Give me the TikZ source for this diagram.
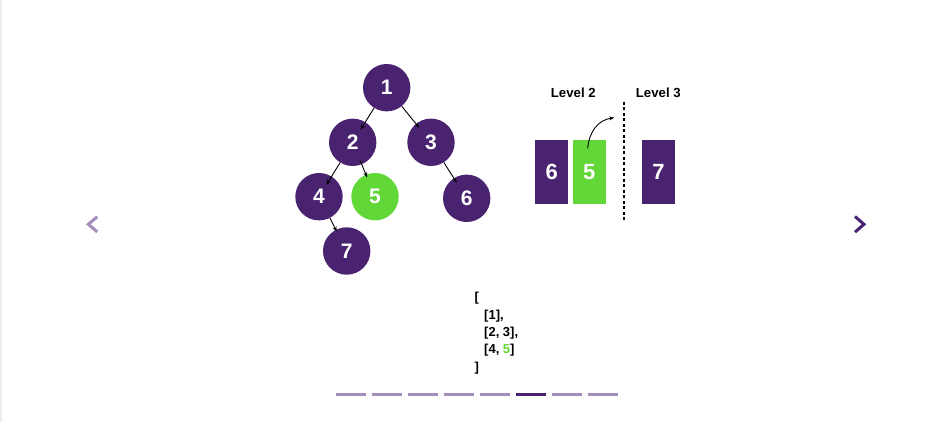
\documentclass[tikz,border=0pt]{standalone}
\usepackage{fontspec}
\setmainfont{Liberation Sans}
\usetikzlibrary{arrows.meta}
\definecolor{pur}{HTML}{4A2370}
\definecolor{grn}{HTML}{62D838}
\definecolor{lpur}{HTML}{A58DB9}
\definecolor{edge}{HTML}{EEEEEE}
\begin{document}
\begin{tikzpicture}[x=1pt,y=-1pt,
  tnode/.style={circle,fill=pur,minimum size=47.4pt,inner sep=0pt,text=white,font=\fontsize{21}{22}\selectfont\bfseries},
  hl/.style={fill=grn},
  bnode/.style={rectangle,fill=pur,minimum width=33pt,minimum height=64pt,inner sep=0pt,text=white,font=\fontsize{22}{23}\selectfont\bfseries},
  arr/.style={draw=black,line width=0.9pt,-{Stealth[length=5pt,width=4pt]}},
  lbl/.style={font=\fontsize{13.2}{14}\selectfont\bfseries,inner sep=0pt},
  lst/.style={font=\fontsize{13}{14}\selectfont\bfseries,inner sep=0pt,anchor=base west},
  bar/.style={fill=lpur},
  chev/.style={line width=3pt,line cap=butt,line join=miter}
]
\useasboundingbox (0,0) rectangle (938,422);
\fill[white] (0,0) rectangle (938,422);
\fill[edge] (0,0) rectangle (1.8,422);

% tree
\node[tnode] (n1) at (386.7,87.7) {1};
\node[tnode] (n2) at (352.7,142.3) {2};
\node[tnode] (n3) at (431,142.3) {3};
\node[tnode] (n4) at (319,196.7) {4};
\node[tnode,hl] (n5) at (375,196.7) {5};
\node[tnode] (n6) at (466.7,198.3) {6};
\node[tnode] (n7) at (346.7,251) {7};

\draw[arr,shorten >=-9pt] (n1) -- (n2);
\draw[arr,shorten >=-5pt] (n1) -- (n3);
\draw[arr,shorten >=-10pt] (n2) -- (n4);
\draw[arr,shorten >=-3pt,shorten <=-4pt] (n2) -- (n5);
\draw[arr,shorten >=-5.5pt] (n3) -- (n6);
\draw[arr,shorten >=-2pt] (n4) -- (n7);

% queue
\node[lbl] (l2) at (573.3,92.7) {Level 2};
\node[lbl] (l3) at (658.3,92.7) {Level 3};
\node[bnode] (q6) at (551.7,172) {6};
\node[bnode,hl] (q5) at (589.2,172) {5};
\node[bnode] (q7) at (658.5,172) {7};
\coordinate (dtop) at (624,101.7);
\coordinate (dbot) at (624,220);
\draw[line width=1.6pt,dash pattern=on 3pt off 2.5pt] (dtop) -- (dbot);
\coordinate (cs) at (587.7,148.3);
\coordinate (ce) at (614.3,117.7);
\draw[arr] (cs) .. controls (589,132) and (598,120) .. (ce);

% list
\node[lst] (r1) at (474.5,302) {[};
\node[lst] (r2) at (484,319.3) {[1],};
\node[lst] (r3) at (484,336.5) {[2, 3],};
\node[lst] (r4) at (484,353.7) {[4, \textcolor{grn}{5}]};
\node[lst] (r5) at (474.5,371) {]};

% pagination
\foreach \i in {0,...,7}{
  \fill[bar] (336+36*\i,393.3) rectangle (366+36*\i,396);
}
\fill[pur] (516,393.3) rectangle (546,396);

% chevrons
\draw[chev,lpur] (97.3,216.7) -- (88.3,224.3) -- (97.3,231.9);
\draw[chev,pur] (855,216.5) -- (864,224.3) -- (855,232.1);
\end{tikzpicture}
\end{document}
